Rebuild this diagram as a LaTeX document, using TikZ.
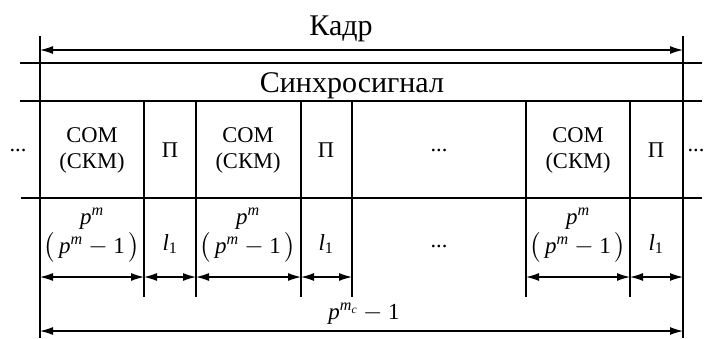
\documentclass[tikz,border=0pt]{standalone}
\usepackage{fontspec}
\setmainfont{Liberation Serif}
\usepackage{amsmath}
\usetikzlibrary{arrows.meta}
\begin{document}
\begin{tikzpicture}[x=1pt,y=-1pt, line width=1.3pt,
  dim/.style={{Latex[length=13pt,width=8pt]}-{Latex[length=13pt,width=8pt]}, line width=1.2pt},
  lbl/.style={font=\fontsize{22.5}{26}\selectfont, align=center, inner sep=0},
  big/.style={font=\fontsize{30}{33}\selectfont, inner sep=0},
  mth/.style={font=\fontsize{23}{27}\selectfont, inner sep=0}]
\useasboundingbox (0,0) rectangle (704,338);
% frame verticals
\coordinate (LT) at (40,36); \coordinate (LB) at (40,338);
\coordinate (RT) at (683,36); \coordinate (RB) at (683,338);
\draw (LT) -- (LB);
\draw (RT) -- (RB);
% horizontals
\coordinate (h1a) at (20,63);  \coordinate (h1b) at (702,63);
\coordinate (h2a) at (20,101); \coordinate (h2b) at (702,101);
\coordinate (h3a) at (21,198); \coordinate (h3b) at (702,198);
\draw (h1a) -- (h1b);
\draw (h2a) -- (h2b);
\draw (h3a) -- (h3b);
% dividers
\foreach \n/\x in {a/40,b/144,c/196,d/301,e/352,f/526,g/630,h/683}{
  \coordinate (t\n) at (\x,101);
  \coordinate (b\n) at (\x,297);
  \coordinate (d\n) at (\x,277);
}
\foreach \n in {b,c,d,e,f,g}{ \draw (t\n) -- (b\n); }
% dimension arrows
\coordinate (ka) at (40,50); \coordinate (kb) at (683,50);
\draw[dim] (ka) -- (kb);
\draw[dim] (da) -- (db);
\draw[dim] (db) -- (dc);
\draw[dim] (dc) -- (dd);
\draw[dim] (dd) -- (de);
\draw[dim] (df) -- (dg);
\draw[dim] (dg) -- (dh);
\coordinate (za) at (40,331); \coordinate (zb) at (683,331);
\draw[dim] (za) -- (zb);
% texts
\node[big, anchor=base] (kadr) at (341,35) {Кадр};
\node[big, anchor=base] (sync) at (352,92) {Синхросигнал};
\node[lbl] (s1) at (92,150) {СОМ\\(СКМ)};
\node[lbl] (s2) at (248,150) {СОМ\\(СКМ)};
\node[lbl] (s3) at (578,150) {СОМ\\(СКМ)};
\node[lbl] (p1) at (170,150) {П};
\node[lbl] (p2) at (326,150) {П};
\node[lbl] (p3) at (656,150) {П};
\node[lbl] (dl) at (18,150) {...};
\node[lbl] (dm) at (439,150) {...};
\node[lbl] (dr) at (696,150) {...};
\node[lbl] (dm2) at (439,246) {...};
\foreach \x/\n in {92/1,248/2,578/3}{
  \node[mth] (pm\n) at (\x,219) {$\textit{p}^{\textit{m}}$};
  \node[mth] (pp\n) at (\x,247) {$\bigl(\,\textit{p}^{\textit{m}}-\text{1}\,\bigr)$};
}
\foreach \x/\n in {170/1,326/2,656/3}{
  \node[mth] (l\n) at (\x,244) {$\textit{l}_{\text{1}}$};
}
\node[mth] (tot) at (364,314) {$\textit{p}^{\textit{m}_{\textit{c}}}-\text{1}$};
\end{tikzpicture}
\end{document}
